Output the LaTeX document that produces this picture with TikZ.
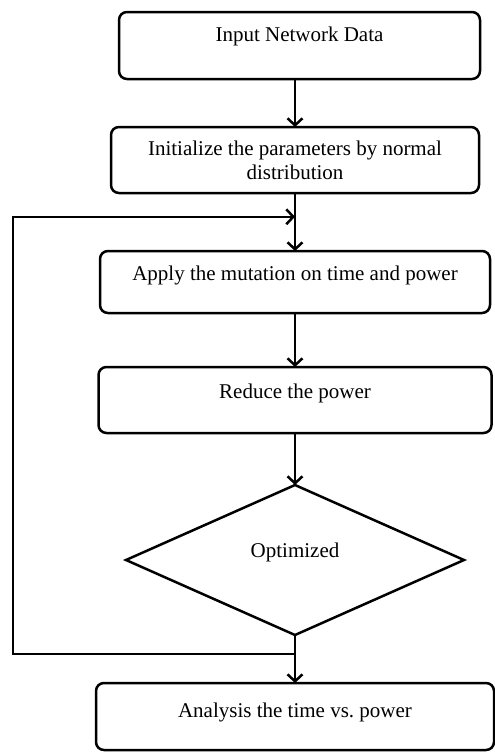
\documentclass[tikz,border=0pt]{standalone}
\usepackage{fontspec}
\setmainfont{Liberation Serif}
\usepackage{tikz}
\usetikzlibrary{positioning, shapes.geometric, arrows.meta, calc}
\tikzstyle{arrow} = [line width=2.5pt,->,>={Straight Barb[length=7pt,width=15pt]}]
\tikzstyle{process} = [draw, line width=2.5pt, rounded corners=8pt, align=center, inner sep=0pt, outer sep=0pt]
\tikzstyle{decision} = [diamond, draw, line width=2.5pt, inner sep=0pt, outer sep=0pt, minimum width=338pt, minimum height=150pt]

\begin{document}
\begin{tikzpicture}[x=1pt, y=1pt, font=\fontsize{21}{24}\selectfont]
  \useasboundingbox (0,0) rectangle (495,-753);

  % Steps of the flow
  \node[process, minimum width=361pt, text height=29pt, text depth=38pt] (input) at (299.5,-45.5) {Input Network Data};
  \node[process, minimum width=368pt, minimum height=66pt, below=48pt of input, xshift=-4.5pt] (init) {Initialize the parameters by normal\\distribution};
  \node[process, minimum width=390pt, text height=29pt, text depth=33pt, below=58pt of init] (apply) {Apply the mutation on time and power};
  \node[process, minimum width=393pt, text height=31pt, text depth=35pt, below=54pt of apply] (reduce) {Reduce the power};
  \node[decision, text height=15pt, text depth=21pt, below=52pt of reduce] (opt) {Optimized};
  \node[process, minimum width=398pt, text height=34pt, text depth=33pt, below=48pt of opt] (analysis) {Analysis the time vs.\ power};

  % Straight arrows
  \draw[arrow] (input.south -| init) -- (init);
  \draw[arrow] (init) -- (apply);
  \draw[arrow] (apply) -- (reduce);
  \draw[arrow] (reduce) -- (opt);
  \draw[arrow] (opt) -- (analysis);

  % Loop back
  \coordinate (merge) at ($(init.south)!0.41!(apply.north)$);
  \coordinate (split) at ($(opt.south)!0.4!(analysis.north)$);
  \coordinate (edge) at (13,0);
  \draw[arrow] (split) -- (split -| edge) |- (merge);
\end{tikzpicture}
\end{document}
